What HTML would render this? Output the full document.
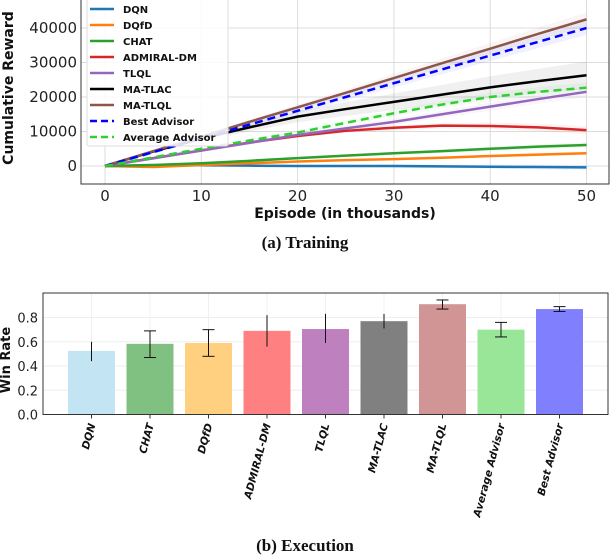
<!DOCTYPE html>
<html><head><meta charset="utf-8"><style>
body{margin:0;background:#fff;}
svg{display:block;font-family:"DejaVu Sans","Liberation Sans",sans-serif;}
</style></head><body>
<svg id="c" width="610" height="556" viewBox="0 0 610 556"></svg>
<script>
// ---- Training chart data ----
const epX = [0,5,10,15,20,25,30,35,40,45,50];
const seriesNames = ["DQN","DQfD","CHAT","ADMIRAL-DM","TLQL","MA-TLAC","MA-TLQL","Best Advisor","Average Advisor"];
const dqn     = [0,0.1,0.2,0.1,0,0,0,-0.1,-0.2,-0.3,-0.4];
const dqfd    = [0,-0.3,0.3,0.8,1.3,1.7,2.0,2.4,2.9,3.3,3.7];
const chat    = [0,0.3,0.8,1.5,2.3,3.0,3.7,4.3,5.0,5.6,6.1];
const admiral = [0,2.3,4.5,6.8,8.7,10.2,11.1,11.7,11.6,11.2,10.4];
const tlql    = [0,2.2,4.5,6.7,9.0,10.9,12.8,15.0,17.2,19.4,21.5];
const matlac  = [0,4.2,8.0,11.2,14.3,16.5,18.6,20.7,22.8,24.6,26.3];
const matlql  = [0,4.3,8.5,12.8,17.0,21.2,25.5,29.8,34.0,38.3,42.5];
const best    = [0,4.0,8.0,12.0,16.0,20.0,24.0,28.0,32.0,36.0,40.0];
const avgAdv  = [0,2.5,5.0,7.4,9.7,12.5,15.3,17.8,20.0,21.5,22.7];
const seriesData = [dqn,dqfd,chat,admiral,tlql,matlac,matlql,best,avgAdv];
const bandSd = [0.8,0.6,0.8,1.2,1.5,4.0,2.0,2.0,1.5];
const seriesColors = ["#1f77b4","#ff7f0e","#2ca02c","#d62728","#9467bd","#000000","#8c564b","#0000ff","#32cd32"];
const seriesDash = [0,0,0,0,0,0,0,1,1];
const xTicks = [0,10,20,30,40,50];
const yTicks = [0,10000,20000,30000,40000];
// ---- Execution chart data ----
const cats = ["DQN","CHAT","DQfD","ADMIRAL-DM","TLQL","MA-TLAC","MA-TLQL","Average Advisor","Best Advisor"];
const winRate = [0.525,0.583,0.59,0.69,0.705,0.77,0.91,0.70,0.87];
const errHi = [0.60,0.69,0.70,0.82,0.83,0.83,0.945,0.76,0.89];
const errLo = [0.44,0.47,0.48,0.56,0.59,0.71,0.87,0.64,0.85];
const hasCap = [0,1,1,0,0,0,1,1,1];
const barColors = ["#c3e4f3","#80c080","#fed080","#ff8080","#bf80bf","#808080","#d19595","#99e699","#8080ff"];
const wrTicks = [0.0,0.2,0.4,0.6,0.8];

const NS="http://www.w3.org/2000/svg";
const svg=document.getElementById('c');
function el(tag,attrs,parent){const e=document.createElementNS(NS,tag);for(const k in attrs)e.setAttribute(k,attrs[k]);(parent||svg).appendChild(e);return e;}

// Top chart
const L=81,R=609,T=0,B=184;
const sx=v=>105+v*9.63;
const sy=v=>166-v*0.00345;
const g1=el('g',{});


xTicks.forEach(t=>{
  const gl=el('line',{x1:sx(t),x2:sx(t),y1:T,y2:B,stroke:'#dcdcdc','stroke-width':1},g1);
  
  
  const tx=el('text',{x:sx(t),y:201,'font-size':15,'text-anchor':'middle',fill:'#222'},g1);
  tx.textContent=t;
  
  
});
yTicks.forEach(t=>{
  const gl=el('line',{x1:L,x2:R,y1:sy(t),y2:sy(t),stroke:'#dcdcdc','stroke-width':1},g1);
  
  
  const tx=el('text',{x:77,y:sy(t)+5,'font-size':15,'text-anchor':'end',fill:'#222'},g1);
  tx.textContent=t;
  
  
});
seriesData.forEach((d,i)=>{
  let up=epX.map((x,j)=>sx(x)+','+sy((d[j]+bandSd[i]*j/10)*1000)).join(' ');
  let dn=epX.map((x,j)=>sx(x)+','+sy((d[j]-bandSd[i]*j/10)*1000)).reverse().join(' ');
  const b=el('polygon',{points:up+' '+dn,fill:seriesColors[i],opacity:0.06},g1);
  
  
});
seriesData.forEach((d,i)=>{
  const pts=epX.map((x,j)=>sx(x)+','+sy(d[j]*1000)).join(' ');
  const a={points:pts,fill:'none',stroke:seriesColors[i],'stroke-width':2.5};
  if(seriesDash[i])a['stroke-dasharray']='8,5';
  const p=el('polyline',a,g1);
  
  
});
const ax=el('path',{d:`M${L},${T}V${B}H${R}V${T}`,fill:'none',stroke:'#333','stroke-width':1},g1);


// legend
const lg=el('g',{},g1);


el('rect',{x:87,y:-3,width:141,height:149,fill:'#fff','fill-opacity':0.85,stroke:'#ddd',rx:2},lg);
seriesNames.forEach((n,i)=>{
  const y=9+i*16;
  const a={x1:90,x2:114,y1:y,y2:y,stroke:seriesColors[i],'stroke-width':2.5};
  if(seriesDash[i])a['stroke-dasharray']='7,4';
  const ln=el('line',a,lg);
  
  
  const t=el('text',{x:123,y:y+4,'font-size':10,'font-weight':'bold',fill:'#111'},lg);
  t.textContent=n;
  
  
});
let t1=el('text',{x:345,y:218,'font-size':14,'font-weight':'bold','text-anchor':'middle',fill:'#111'});
t1.textContent='Episode (in thousands)';


let t2=el('text',{x:0,y:0,'font-size':14,'font-weight':'bold','text-anchor':'middle',fill:'#111',transform:'translate(13,88) rotate(-90)'});
t2.textContent='Cumulative Reward';


let c1=el('text',{x:305,y:248,'font-size':17,'font-weight':'bold','text-anchor':'middle',fill:'#111','font-family':'"Liberation Serif",serif'});
c1.textContent='(a) Training';



// Bottom chart
const L2=43,R2=608,T2=293,B2=414.5;
const by=v=>B2-v*121.2;
const bx=i=>91.5+i*58.5;
const g2=el('g',{});


wrTicks.forEach(t=>{
  const gl=el('line',{x1:L2,x2:R2,y1:by(t),y2:by(t),stroke:'#eee','stroke-width':1},g2);
  
  
  const tx=el('text',{x:38,y:by(t)+5,'font-size':13,'text-anchor':'end',fill:'#222'},g2);
  tx.textContent=t.toFixed(1);
  
  
});
cats.forEach((c,i)=>{
  const gl=el('line',{x1:bx(i),x2:bx(i),y1:T2,y2:B2,stroke:'#f0f0f0','stroke-width':1},g2);
  
  
});
cats.forEach((c,i)=>{
  const r=el('rect',{x:bx(i)-23.5,y:by(winRate[i]),width:47,height:B2-by(winRate[i]),fill:barColors[i]},g2);
  
  
  const e=el('line',{x1:bx(i),x2:bx(i),y1:by(errHi[i]),y2:by(errLo[i]),stroke:'#111','stroke-width':1},g2);
  
  
  if(hasCap[i]){
    [errHi[i],errLo[i]].forEach(v=>{
      const cp=el('line',{x1:bx(i)-6,x2:bx(i)+6,y1:by(v),y2:by(v),stroke:'#111','stroke-width':1},g2);
      
      
    });
  }
  const tk=el('line',{x1:bx(i),x2:bx(i),y1:B2,y2:B2+4,stroke:'#333'},g2);
  
  
  const t=el('text',{x:0,y:0,'font-size':10.5,'font-weight':'bold','font-style':'italic','text-anchor':'end',fill:'#111',transform:`translate(${bx(i)+4},${B2+10}) rotate(-75)`},g2);
  t.textContent=c;
  
  
});
const ax2=el('path',{d:`M${L2},${T2}V${B2}H${R2}V${T2}Z`,fill:'none',stroke:'#333','stroke-width':1},g2);


let t3=el('text',{x:0,y:0,'font-size':13,'font-weight':'bold','text-anchor':'middle',fill:'#111',transform:'translate(10,360) rotate(-90)'});
t3.textContent='Win Rate';


let c2=el('text',{x:305,y:551,'font-size':17,'font-weight':'bold','text-anchor':'middle',fill:'#111','font-family':'"Liberation Serif",serif'});
c2.textContent='(b) Execution';


</script>
</body></html>
